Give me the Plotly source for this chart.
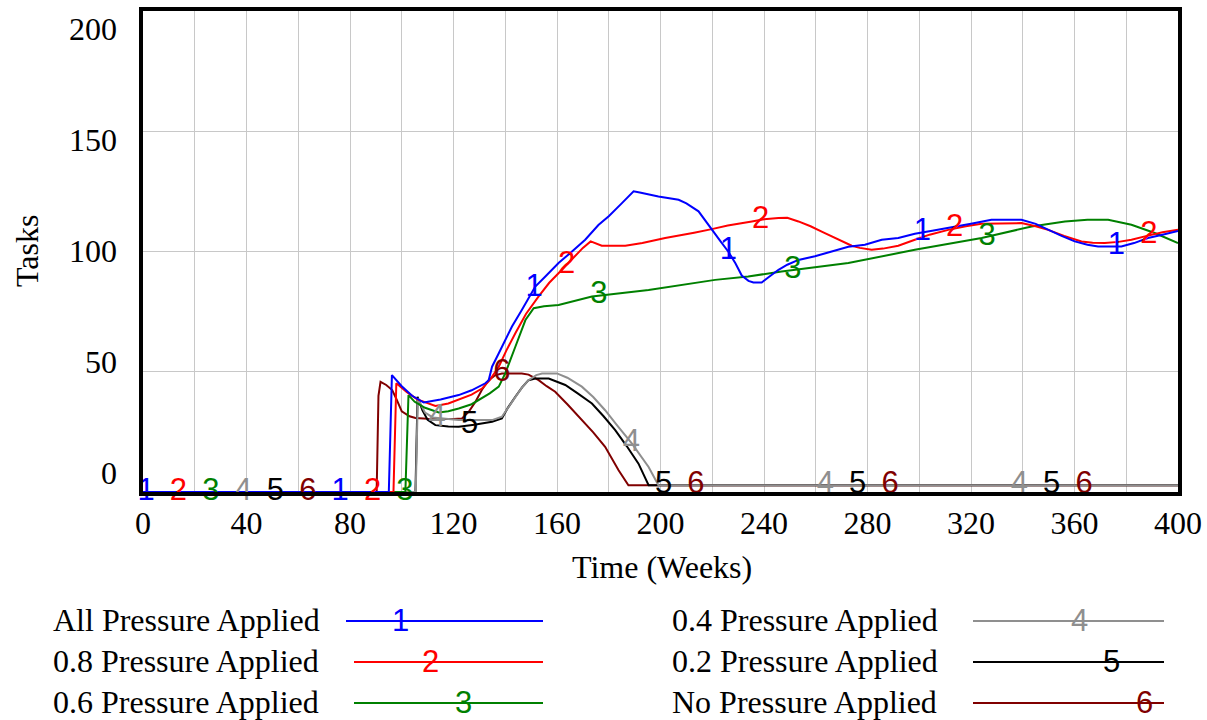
import numpy as np
import plotly.graph_objects as go

# ---------------- data ----------------
series_names = ["All Pressure Applied", "0.8 Pressure Applied", "0.6 Pressure Applied",
                "0.4 Pressure Applied", "0.2 Pressure Applied", "No Pressure Applied"]
series_ids = ["1", "2", "3", "4", "5", "6"]

t1 = [0, 95.0, 96.2, 100, 104, 108.5, 115, 122, 127, 132.3, 133.6, 134.9, 137.5, 140, 142.6,
      146.4, 151.6, 155.5, 160.6, 165.8, 170.9, 176, 180, 185, 189.6, 192, 195.4, 199.2, 207,
      210, 214.7, 219.8, 223, 226.3, 229, 231.4, 234, 235.9, 239.1, 242, 245.6, 249, 253.3,
      259.7, 266.1, 272.6, 279, 285.5, 291.9, 298.3, 305, 311.2, 320, 327.9, 333, 339.5, 345,
      349.8, 355, 360.1, 365, 369.1, 378.1, 383, 388.4, 394, 400]
v1 = [0, 0, 48.6, 44, 40, 37.2, 38.5, 40.3, 42.3, 45.2, 46.5, 52.1, 57.7, 63.2, 68.8,
      75.7, 85.4, 89.6, 95.2, 100, 104.9, 111, 114.7, 120, 125, 124.5, 123.6, 122.9, 121.5,
      120, 116.7, 109, 104.5, 99.8, 95, 90, 87.8, 87.1, 87.1, 89.5, 92.4, 94.5, 96.5,
      98, 100, 102, 102.8, 104.9, 105.6, 107.4, 108.6, 109.7, 111.5, 113.2, 113.3, 113.2, 111.5,
      109, 106.5, 104.2, 102.8, 102.1, 102.1, 103.5, 105.6, 107, 108.5]

t2 = [0, 96.8, 97.9, 102, 106, 113, 118, 122, 127, 131, 134, 137.5, 140.5, 143.9, 148,
      152.9, 157, 161.9, 166, 170, 173, 177.3, 186.4, 193, 201.8, 208.2, 213, 219.8, 226,
      235.3, 240, 245.6, 249, 253.3, 258, 262.3, 266.1, 270, 273.9, 277, 281.6, 286, 291.9,
      298.3, 304, 311.2, 318, 324.1, 332, 339.5, 345, 349.8, 356, 362.7, 367, 371.7, 377,
      382, 388, 394, 400]
v2 = [0, 0, 45.2, 41.5, 38.5, 35.8, 36.8, 38.5, 40.5, 43, 46.5, 52.1, 59, 66, 74,
      81.3, 87, 92.4, 97, 101.5, 104.2, 102.4, 102.4, 103.5, 105.6, 106.8, 107.8, 109.3, 110.8,
      112.5, 113.4, 113.9, 114, 112.5, 110.5, 108.3, 106.3, 104.3, 102.4, 101.5, 100.7, 101.2, 102.4,
      104.9, 107, 109, 110.5, 111.5, 111.8, 111.8, 110.5, 109, 106.5, 104.2, 103.6, 103.5, 104,
      104.9, 106.5, 108, 109]

t3 = [0, 101.4, 102.6, 105, 109, 114.3, 118, 122, 127, 131, 134, 137.5, 140, 143.9, 147.8,
      151, 155, 160.6, 173.5, 195.4, 221.1, 233.9, 246.8, 272.6, 298.3, 324.1, 343.4, 356.3,
      365, 373, 382, 391, 400]
v3 = [0, 0, 40.3, 37.5, 35, 33.1, 33.6, 34.7, 36.5, 38.9, 41, 43.8, 49.3, 60.4, 71.5,
      76.4, 77.2, 77.8, 81.3, 84, 88.2, 89.6, 91.7, 95.2, 100.7, 105.6, 110.4, 112.5,
      113.2, 113.2, 111.1, 107.7, 103.5]

t4 = [0, 105.4, 106.2, 109, 112, 118, 122, 128, 134.9, 138.7, 141, 143.9, 146.5, 149, 152,
      154.2, 160, 164, 169.6, 174, 178.6, 183, 188.9, 195.4, 199.2, 400]
v4 = [0, 0, 38.9, 33, 31, 30.3, 29.9, 29.9, 29.9, 31.3, 35, 39.6, 43.5, 46.5, 48.6,
      49.3, 49.3, 47.5, 43.8, 39.5, 34, 28, 20.2, 10.4, 2.8, 2.8]

t5 = [0, 105.3, 106.1, 108, 110, 113, 118, 122, 128, 134.9, 138.7, 141, 143.9, 146.5, 149,
      151.6, 156.8, 163.2, 168, 173.5, 178, 182.5, 187, 191.5, 195.4, 400]
v5 = [0, 0, 39.6, 34, 30, 27.8, 27.2, 27.1, 28, 29.2, 30.6, 35, 39.6, 43.5, 46.5,
      47.2, 47.2, 44.5, 41, 36.8, 31.5, 25.7, 19, 11.8, 2.8, 2.8]

t6 = [0, 90.3, 91.0, 91.8, 94, 96.3, 98, 100, 103, 105.3, 110, 115.6, 120, 123.3, 126,
      128.5, 131, 133.6, 136, 138.7, 146.4, 149, 152.9, 156, 159.3, 164, 169.6, 174, 178.6,
      183.8, 187.6, 400]
v6 = [0, 0, 40, 45.8, 44.5, 42.4, 38.5, 33.5, 31.5, 30.8, 30.5, 30.3, 30.4, 30.6, 33.5,
      37.5, 42.5, 46.5, 48.5, 49.3, 49.3, 48.8, 46.5, 44, 41.7, 36.5, 29.9, 24.8, 18.8,
      9, 2.8, 2.8]

x_tick_vals = list(range(0, 401, 20))
x_tick_labels = [str(v) if v % 40 == 0 else "" for v in x_tick_vals]
y_tick_vals = [0, 50, 100, 150, 200]
y_tick_labels = ["0", "50", "100", "150", "200"]

times = [t1, t2, t3, t4, t5, t6]
values = [v1, v2, v3, v4, v5, v6]

# ---------------- style ----------------
colors = ["#0000FF", "#FF0000", "#008000", "#8F8F8F", "#000000", "#800000"]
SERIF = "Liberation Serif, Times New Roman, serif"
SANS = "Liberation Sans, Arial, sans-serif"
W, H = 1207, 720
ML, MR, MT, MB = 143, 29, 11, 228
PW, PH = W - ML - MR, H - MT - MB
NUM_SIZE = 31

label_start, label_offset, label_step = 1.2, 12.5, 75.0


def px(x):
    return (x - ML) / PW


def py(y):
    return (H - MB - y) / PH


fig = go.Figure()

# draw series in reverse order so that series 1 ends up on top
for i in reversed(range(6)):
    fig.add_trace(go.Scatter(x=times[i], y=values[i], mode="lines",
                             line=dict(color=colors[i], width=2),
                             name=series_names[i], showlegend=False,
                             hoverinfo="skip"))
for i in reversed(range(6)):
    lt = np.arange(label_start + label_offset * i, 400, label_step)
    lv = np.interp(lt, times[i], values[i])
    fig.add_trace(go.Scatter(x=lt, y=lv, mode="text", text=[series_ids[i]] * len(lt),
                             textposition="middle center",
                             textfont=dict(family=SANS, size=NUM_SIZE, color=colors[i]),
                             showlegend=False, hoverinfo="skip", cliponaxis=False))

annotations = []
# y tick labels (spread as in the reference)
for val, lab in zip(y_tick_vals, y_tick_labels):
    annotations.append(dict(xref="paper", yref="y", x=px(119), y=val, text=lab,
                            showarrow=False, xanchor="right", yanchor="middle",
                            yshift=1 + (100 - val) * 0.185,
                            font=dict(family=SERIF, size=32, color="black")))
# axis titles
annotations.append(dict(xref="paper", yref="paper", x=px(27), y=py(251), text="Tasks",
                        textangle=-90, showarrow=False, xanchor="center", yanchor="middle",
                        font=dict(family=SERIF, size=32, color="black")))
annotations.append(dict(xref="paper", yref="paper", x=px(662), y=py(567), text="Time (Weeks)",
                        showarrow=False, xanchor="center", yanchor="middle",
                        font=dict(family=SERIF, size=32, color="black")))

# legend (two columns, label text then line sample with number)
row_y = [620, 661, 702]
text_left = [51, 670]
line_start = [[346, 354, 354], [973, 973, 973]]
line_end = [543, 1164]
num_x = [400, 430, 463, 1079, 1111, 1144]
shapes = []
for i in range(6):
    c, r = i // 3, i % 3
    annotations.append(dict(xref="paper", yref="paper", x=px(text_left[c]), y=py(row_y[r]),
                            text=series_names[i], showarrow=False, xanchor="left",
                            yanchor="middle",
                            font=dict(family=SERIF, size=32, color="black")))
    shapes.append(dict(type="line", xref="paper", yref="paper",
                       x0=px(line_start[c][r]), x1=px(line_end[c]),
                       y0=py(row_y[r] + 1), y1=py(row_y[r] + 1),
                       line=dict(color=colors[i], width=2)))
    annotations.append(dict(xref="paper", yref="paper", x=px(num_x[i]), y=py(row_y[r]),
                            text=series_ids[i], showarrow=False, xanchor="center",
                            yanchor="middle",
                            font=dict(family=SANS, size=NUM_SIZE, color=colors[i])))

fig.update_layout(
    width=W, height=H,
    margin=dict(l=ML, r=MR, t=MT, b=MB, pad=0, autoexpand=False),
    paper_bgcolor="white", plot_bgcolor="white",
    showlegend=False,
    annotations=annotations, shapes=shapes,
    xaxis=dict(range=[0, 400], tickvals=x_tick_vals, ticktext=x_tick_labels,
               automargin=False,
               showgrid=True, gridcolor="#C8C8C8", gridwidth=1,
               showline=True, linecolor="black", linewidth=3.5, mirror=True,
               zeroline=False, ticks="outside", ticklen=0, tickcolor="rgba(0,0,0,0)",
               tickfont=dict(family=SERIF, size=32, color="black")),
    yaxis=dict(range=[0, 200], tickvals=y_tick_vals, showticklabels=False,
               automargin=False,
               showgrid=True, gridcolor="#C8C8C8", gridwidth=1,
               showline=True, linecolor="black", linewidth=3.5, mirror=True,
               zeroline=False, ticks=""),
)

fig.write_html(
    "out.html",
    config={"displayModeBar": False, "responsive": False},
    post_script="document.body.style.margin='0';document.documentElement.style.overflow='hidden';",
)
